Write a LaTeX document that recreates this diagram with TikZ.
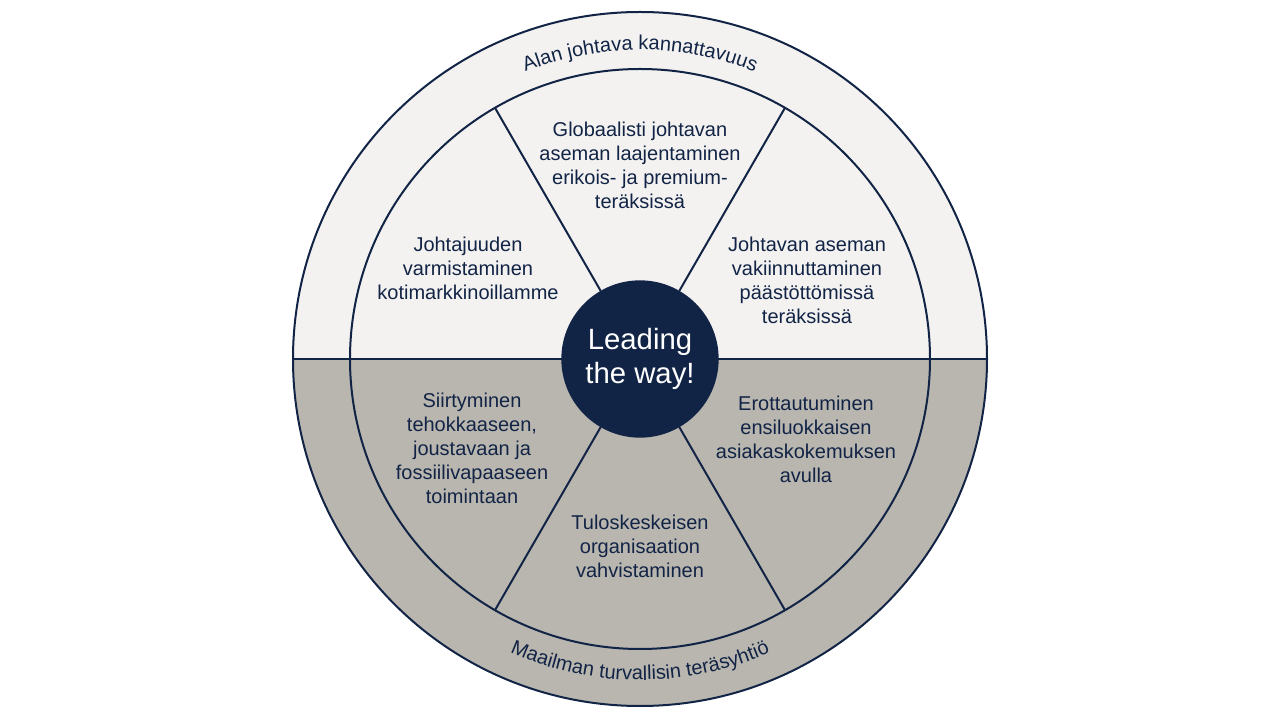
\documentclass[tikz,border=0pt]{standalone}
\usepackage{fontspec}
\setmainfont{Liberation Sans}
\usetikzlibrary{decorations.text}
\definecolor{navy}{RGB}{18,36,70}
\definecolor{topc}{RGB}{243,242,240}
\definecolor{botc}{RGB}{185,182,175}
\newcommand{\segfont}{\fontsize{15}{18}\selectfont}
\newcommand{\arcfont}{\fontsize{15}{18}\selectfont}
\tikzset{
  ring/.style={draw=navy, line width=1.5pt},
  seglabel/.style={text=navy, align=center, font=\segfont, inner sep=0pt},
  hub/.style={circle, fill=navy, draw=navy, line width=1pt, minimum size=117pt, inner sep=0pt,
    text=white, align=center, font=\fontsize{22}{25.5}\selectfont}
}
\begin{document}
\begin{tikzpicture}[x=0.75pt, y=0.75pt]
\useasboundingbox (-640,-361) rectangle (640,359);
% halves
\fill[topc] (347,0) arc[start angle=0, end angle=180, radius=347] -- cycle;
\fill[botc] (-347,0) arc[start angle=180, end angle=360, radius=347] -- cycle;
% rings
\draw[ring] (0,0) circle[radius=347];
\draw[ring] (0,0) circle[radius=290];
\coordinate (L) at (180:347);
\coordinate (R) at (0:347);
\draw[ring] (L) -- (R);
% spokes end points
\coordinate (p60) at (60:290);
\coordinate (p120) at (120:290);
\coordinate (p240) at (240:290);
\coordinate (p300) at (300:290);
\node[hub] (c) at (0,0) {Leading\\the way!};
\draw[ring] (c.60) -- (p60);
\draw[ring] (c.120) -- (p120);
\draw[ring] (c.240) -- (p240);
\draw[ring] (c.300) -- (p300);
% segment labels
\node[seglabel] (t1) at (0,194) {Globaalisti johtavan\\aseman laajentaminen\\erikois- ja premium-\\teräksissä};
\node[seglabel] (t2) at (-172,91) {Johtajuuden\\varmistaminen\\kotimarkkinoillamme};
\node[seglabel] (t3) at (167,79) {Johtavan aseman\\vakiinnuttaminen\\päästöttömissä\\teräksissä};
\node[seglabel] (t4) at (-168,-89) {Siirtyminen\\tehokkaaseen,\\joustavaan ja\\fossiilivapaaseen\\toimintaan};
\node[seglabel] (t5) at (166,-80) {Erottautuminen\\ensiluokkaisen\\asiakaskokemuksen\\avulla};
\node[seglabel] (t6) at (0,-187) {Tuloskeskeisen\\organisaation\\vahvistaminen};
% curved texts
\path[decorate, decoration={text along path, text align=center,
  text={|\color{navy}\arcfont|Alan johtava kannattavuus}}]
  (150:309) arc[start angle=150, end angle=30, radius=309];
\path[decorate, decoration={text along path, text align=center,
  text={|\color{navy}\arcfont|Maailman turvallisin teräsyhtiö}}]
  (210:321) arc[start angle=210, end angle=330, radius=321];
\end{tikzpicture}
\end{document}
